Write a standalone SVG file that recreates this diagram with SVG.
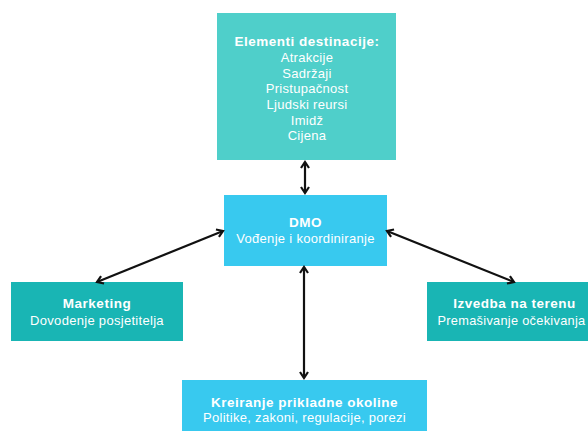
<svg xmlns="http://www.w3.org/2000/svg" width="588" height="431" viewBox="0 0 588 431">
<style>
text{font-family:"Liberation Sans",Arial,sans-serif;font-size:13px;letter-spacing:0.3px;fill:#fff;text-anchor:middle}
.b{font-weight:bold;font-size:13.5px;letter-spacing:0.5px}
.conn line{stroke:#111;stroke-width:2.2}
</style>
<defs>
<marker id="a" markerWidth="10" markerHeight="10" refX="8" refY="5" orient="auto-start-reverse" markerUnits="userSpaceOnUse">
<path d="M2,1 L8,5 L2,9" fill="none" stroke="#111" stroke-width="2.2"/>
</marker>
</defs>
<rect width="588" height="431" fill="#fff"/>
<g id="elementi">
<rect x="217" y="13" width="179" height="147" fill="#4fcfca"/>
<text class="b" x="307" y="46">Elementi destinacije:</text>
<text x="307" y="62">Atrakcije</text>
<text x="307" y="78">Sadržaji</text>
<text x="307" y="93">Pristupačnost</text>
<text x="307" y="109">Ljudski reursi</text>
<text x="307" y="125">Imidž</text>
<text x="307" y="140">Cijena</text>
</g>
<g id="dmo">
<rect x="224" y="195" width="163" height="71" fill="#38c9ef"/>
<text class="b" x="305.5" y="227">DMO</text>
<text x="305.5" y="243">Vođenje i koordiniranje</text>
</g>
<g id="marketing">
<rect x="11" y="282" width="172" height="59" fill="#19b5b4"/>
<text class="b" x="97" y="308">Marketing</text>
<text x="97" y="325">Dovodenje posjetitelja</text>
</g>
<g id="izvedba">
<rect x="427" y="282" width="175" height="59" fill="#19b5b4"/>
<text class="b" x="514.5" y="308">Izvedba na terenu</text>
<text x="511.5" y="325" textLength="148" lengthAdjust="spacingAndGlyphs">Premašivanje očekivanja</text>
</g>
<g id="kreiranje">
<rect x="182" y="380" width="245" height="51" fill="#38c9ef"/>
<text class="b" x="304.5" y="407">Kreiranje prikladne okoline</text>
<text x="304.5" y="422">Politike, zakoni, regulacije, porezi</text>
</g>
<g class="conn">
<line x1="305" y1="162" x2="305" y2="193" marker-start="url(#a)" marker-end="url(#a)"/>
<line x1="223" y1="231" x2="97" y2="282" marker-start="url(#a)" marker-end="url(#a)"/>
<line x1="387" y1="231" x2="514" y2="282" marker-start="url(#a)" marker-end="url(#a)"/>
<line x1="304" y1="267" x2="304" y2="378" marker-start="url(#a)" marker-end="url(#a)"/>
</g>
</svg>
